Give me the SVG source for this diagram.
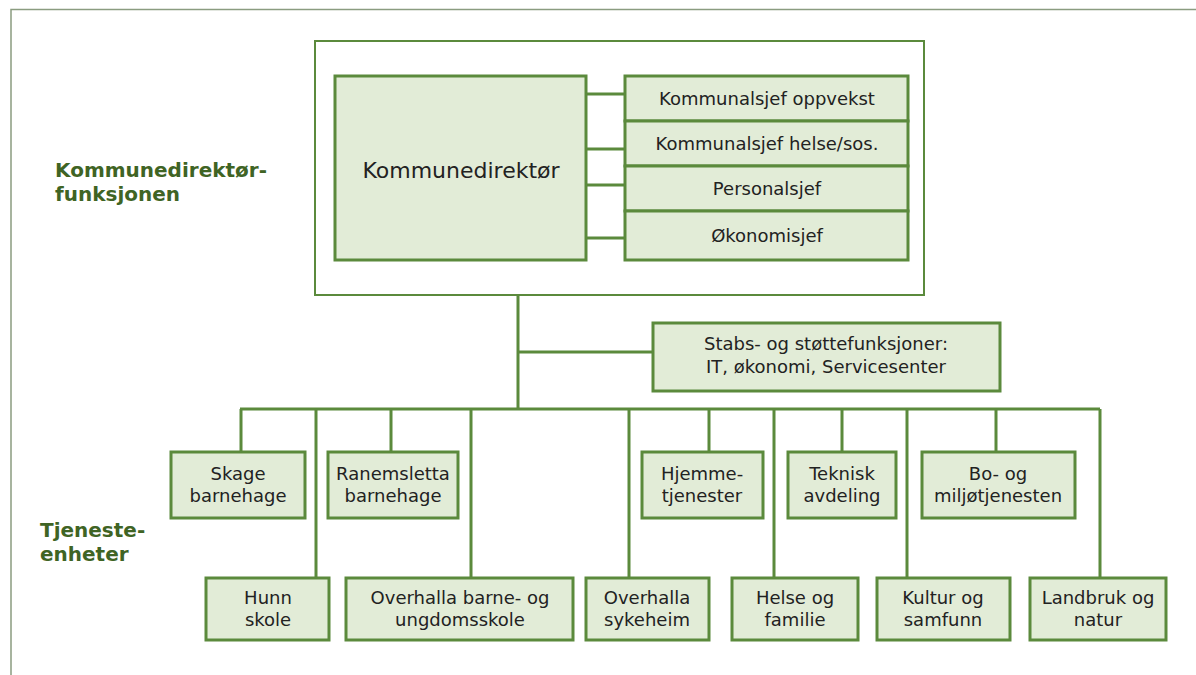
<svg xmlns="http://www.w3.org/2000/svg" width="1196" height="675" viewBox="0 0 1196 675">
<style>
.box{fill:#e2ecd7;stroke:#5b8a3c;stroke-width:3}
.frame{fill:#fff;stroke:#5b8a3c;stroke-width:2}
.ln{stroke:#5b8a3c;stroke-width:3;fill:none}
.t{font-family:"DejaVu Sans","Liberation Sans",sans-serif;font-size:18px;fill:#222;text-anchor:middle}
.h{font-family:"DejaVu Sans","Liberation Sans",sans-serif;font-size:20px;font-weight:bold;fill:#3f6424}
</style>
<rect x="0" y="0" width="1196" height="675" fill="#fff"/>
<path d="M11,675 V9.5 H1196" fill="none" stroke="#8a9c80" stroke-width="1.5"/>
<g id="label-kd">
<text class="h" x="55" y="177">Kommunedirektør-</text>
<text class="h" x="55" y="201">funksjonen</text>
</g>
<g id="label-te">
<text class="h" x="40" y="537">Tjeneste-</text>
<text class="h" x="40" y="561">enheter</text>
</g>
<g id="kd-frame"><rect class="frame" x="315" y="41" width="609" height="254"/></g>
<g id="connectors">
<path class="ln" d="M586,94 H625 M586,149 H625 M586,185 H625 M586,238 H625"/>
<path class="ln" d="M518,295 V409 M518,352 H653 M240,409 H1100"/>
<path class="ln" d="M241,409 V452 M391,409 V452 M709,409 V452 M842,409 V452 M996,409 V452"/>
<path class="ln" d="M316,409 V578 M471,409 V578 M629,409 V578 M774,409 V578 M907,409 V578 M1100,409 V578"/>
</g>
<g id="kommunedirektor"><rect class="box" x="335" y="76" width="251" height="184"/><text class="t" x="461" y="178" style="font-size:22px">Kommunedirektør</text></g>
<g id="oppvekst"><rect class="box" x="625" y="76" width="283" height="45"/><text class="t" x="767" y="105">Kommunalsjef oppvekst</text></g>
<g id="helse"><rect class="box" x="625" y="121" width="283" height="45"/><text class="t" x="767" y="150">Kommunalsjef helse/sos.</text></g>
<g id="personal"><rect class="box" x="625" y="166" width="283" height="45"/><text class="t" x="767" y="195">Personalsjef</text></g>
<g id="okonomi"><rect class="box" x="625" y="211" width="283" height="49"/><text class="t" x="767" y="242">Økonomisjef</text></g>
<g id="stabs"><rect class="box" x="653" y="323" width="347" height="68"/><text class="t" x="826" y="350">Stabs- og støttefunksjoner:</text><text class="t" x="826" y="373">IT, økonomi, Servicesenter</text></g>
<g id="skage"><rect class="box" x="171" y="452" width="134" height="66"/><text class="t" x="238" y="480">Skage</text><text class="t" x="238" y="502">barnehage</text></g>
<g id="ranemsletta"><rect class="box" x="328" y="452" width="130" height="66"/><text class="t" x="393" y="480">Ranemsletta</text><text class="t" x="393" y="502">barnehage</text></g>
<g id="hjemme"><rect class="box" x="642" y="452" width="121" height="66"/><text class="t" x="702" y="480">Hjemme-</text><text class="t" x="702" y="502">tjenester</text></g>
<g id="teknisk"><rect class="box" x="788" y="452" width="108" height="66"/><text class="t" x="842" y="480">Teknisk</text><text class="t" x="842" y="502">avdeling</text></g>
<g id="bo"><rect class="box" x="922" y="452" width="153" height="66"/><text class="t" x="998" y="480">Bo- og</text><text class="t" x="998" y="502">miljøtjenesten</text></g>
<g id="hunn"><rect class="box" x="206" y="578" width="123" height="62"/><text class="t" x="268" y="604">Hunn</text><text class="t" x="268" y="626">skole</text></g>
<g id="obus"><rect class="box" x="346" y="578" width="227" height="62"/><text class="t" x="460" y="604">Overhalla barne- og</text><text class="t" x="460" y="626">ungdomsskole</text></g>
<g id="sykeheim"><rect class="box" x="586" y="578" width="123" height="62"/><text class="t" x="647" y="604">Overhalla</text><text class="t" x="647" y="626">sykeheim</text></g>
<g id="helsefam"><rect class="box" x="732" y="578" width="126" height="62"/><text class="t" x="795" y="604">Helse og</text><text class="t" x="795" y="626">familie</text></g>
<g id="kultur"><rect class="box" x="877" y="578" width="133" height="62"/><text class="t" x="943" y="604">Kultur og</text><text class="t" x="943" y="626">samfunn</text></g>
<g id="landbruk"><rect class="box" x="1030" y="578" width="136" height="62"/><text class="t" x="1098" y="604">Landbruk og</text><text class="t" x="1098" y="626">natur</text></g>
</svg>
